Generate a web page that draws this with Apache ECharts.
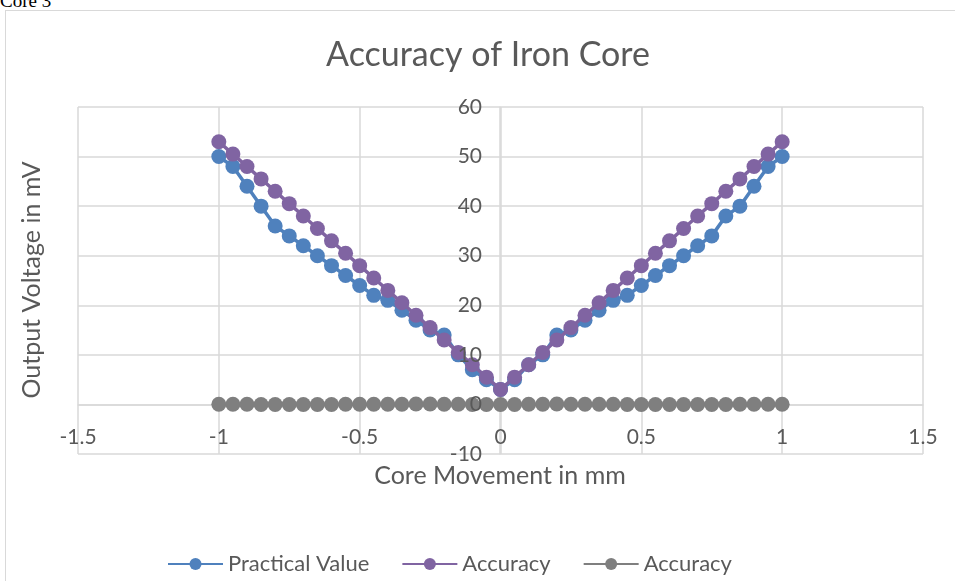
<!DOCTYPE html>
<html>
<head>
<meta charset="utf-8">
<script src="https://cdn.jsdelivr.net/npm/echarts@6/dist/echarts.min.js"></script>
<style>
  html, body { margin: 0; padding: 0; background: #fff; overflow: hidden; }
  .note { position: absolute; left: 0; top: -10px; font-family: "Liberation Serif", serif; font-size: 19px; color: #000; }
  .frame { position: absolute; left: 5px; top: 10px; width: 960px; height: 600px; border: 1px solid #d9d9d9; }
  #chart { position: absolute; left: 0; top: 0; width: 955px; height: 581px; }
</style>
</head>
<body>
<div class="note">Core 3</div>
<div class="frame"></div>
<div id="chart"></div>
<script>
// core movement in mm
const xValues = [-1, -0.95, -0.9, -0.85, -0.8, -0.75, -0.7, -0.65, -0.6, -0.55, -0.5, -0.45, -0.4, -0.35, -0.3, -0.25, -0.2, -0.15, -0.1, -0.05,
  0, 0.05, 0.1, 0.15, 0.2, 0.25, 0.3, 0.35, 0.4, 0.45, 0.5, 0.55, 0.6, 0.65, 0.7, 0.75, 0.8, 0.85, 0.9, 0.95, 1];
// output voltage in mV
const practical = [50, 48, 44, 40, 36, 34, 32, 30, 28, 26, 24, 22, 21, 19, 17, 15, 14, 10, 7, 5,
  3, 5, 8, 10, 14, 15, 17, 19, 21, 22, 24, 26, 28, 30, 32, 34, 38, 40, 44, 48, 50];
const accuracy = [53, 50.5, 48, 45.5, 43, 40.5, 38, 35.5, 33, 30.5, 28, 25.5, 23, 20.5, 18, 15.5, 13, 10.5, 8, 5.5,
  3, 5.5, 8, 10.5, 13, 15.5, 18, 20.5, 23, 25.5, 28, 30.5, 33, 35.5, 38, 40.5, 43, 45.5, 48, 50.5, 53];
const accuracy2 = [0.05, 0.05, 0.05, 0, 0, 0, 0, 0, 0, 0.05, 0.05, 0.05, 0.05, 0.05, 0.1, 0.1, 0.05, 0.05, 0, 0,
  0, 0, 0.05, 0.05, 0.1, 0.05, 0.05, 0.05, 0.05, 0, 0, 0, 0, 0, 0, 0, 0, 0.05, 0.05, 0.05, 0.05];
const seriesNames = ["Practical Value", "Accuracy", "Accuracy "];
const colors = ["#4f81bd", "#8064a2", "#7f7f7f"];

const font = "Lato, 'Open Sans', sans-serif";
const textColor = "#595959";

function pairs(ys) {
  return xValues.map((x, i) => [x, ys[i]]);
}

// 绘图区位置
const gridLeft = 78, gridRight = 32, gridTop = 107, gridBottom = 127;
// 坐标轴交叉到 0 处（用 offset 代替 onZero）
const yAxisOffset = -(500 - gridLeft);
const xAxisOffset = -(581 - gridBottom - 405);
const gridLine = { color: "#d9d9d9", width: 1.5 };

const mychart = echarts.init(document.getElementById("chart"));
mychart.setOption({
  animation: false,
  textStyle: { fontFamily: font },
  grid: { left: gridLeft, right: gridRight, top: gridTop, bottom: gridBottom },
  legend: {
    left: 162,
    top: 548,
    itemWidth: 55,
    itemHeight: 15,
    itemGap: 32,
    textStyle: { fontSize: 22, color: textColor, fontFamily: font },
    data: seriesNames
  },
  xAxis: {
    type: "value",
    min: -1.5,
    max: 1.5,
    interval: 0.5,
    position: "bottom",
    offset: xAxisOffset,
    axisLine: { onZero: false, lineStyle: gridLine },
    axisTick: { show: false },
    axisLabel: { margin: 22, fontSize: 21, color: textColor },
    splitLine: { show: true, lineStyle: gridLine }
  },
  yAxis: [
    {
      // 网格线和轴线
      type: "value",
      min: -10,
      max: 60,
      interval: 10,
      position: "left",
      offset: yAxisOffset,
      axisLine: { show: true, onZero: false, lineStyle: gridLine },
      axisTick: { show: false },
      axisLabel: { show: false },
      splitLine: { show: true, lineStyle: gridLine }
    },
    {
      // 只画刻度文字，放在数据点上面
      type: "value",
      min: -10,
      max: 60,
      interval: 10,
      position: "left",
      offset: yAxisOffset,
      z: 10,
      axisLine: { show: false },
      axisTick: { show: false },
      axisLabel: { margin: 18, fontSize: 21, color: textColor },
      splitLine: { show: false }
    }
  ],
  graphic: [
    {
      type: "text", x: 488, y: 55,
      style: { text: "Accuracy of Iron Core", fontSize: 34, fill: textColor, fontFamily: font, align: "center", verticalAlign: "middle" }
    },
    {
      type: "text", x: 500, y: 476,
      style: { text: "Core Movement in mm", fontSize: 25, fill: textColor, fontFamily: font, align: "center", verticalAlign: "middle" }
    },
    {
      type: "text", x: 32, y: 280, rotation: Math.PI / 2,
      style: { text: "Output Voltage in mV", fontSize: 25, fill: textColor, fontFamily: font, align: "center", verticalAlign: "middle" }
    }
  ],
  series: seriesNames.map((name, i) => ({
    name: name,
    type: "line",
    yAxisIndex: 0,
    data: pairs([practical, accuracy, accuracy2][i]),
    symbol: "circle",
    symbolSize: 15,
    itemStyle: { color: colors[i] },
    lineStyle: { color: colors[i], width: 3.5 },
    z: 2 + i
  }))
});
window.onresize = function () {
  mychart.resize();
};
</script>
</body>
</html>
